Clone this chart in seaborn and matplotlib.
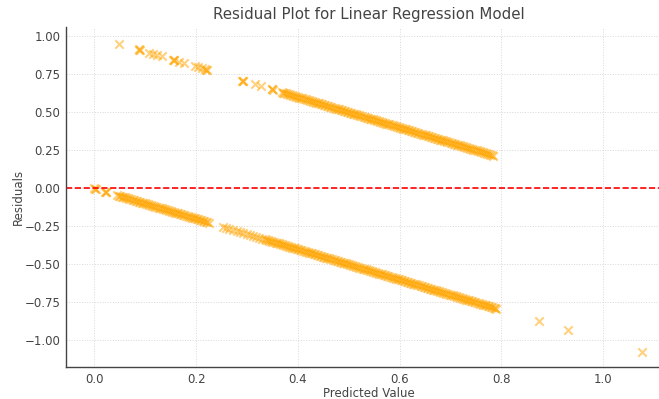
import pandas as pd
import matplotlib
matplotlib.use("Agg")
import matplotlib.pyplot as plt
import seaborn as sns

# Predicted values, split by actual class
# actual = 1 -> upper branch, actual = 0 -> lower branch
pred_class1 = [
    0.049, 0.087, 0.088, 0.089, 0.108, 0.116, 0.124, 0.132, 0.155, 0.156,
    0.157, 0.167, 0.177, 0.197, 0.203, 0.211, 0.218, 0.220, 0.222, 0.291,
    0.292, 0.293, 0.315, 0.328, 0.349, 0.350, 0.351, 0.368,
    0.370, 0.373, 0.376, 0.379, 0.382, 0.385, 0.388, 0.391, 0.394, 0.397,
    0.400, 0.403, 0.406, 0.409, 0.412, 0.415, 0.418, 0.421, 0.424, 0.427,
    0.430, 0.433, 0.436, 0.439, 0.442, 0.445, 0.448, 0.451, 0.454, 0.457,
    0.460, 0.463, 0.466, 0.469, 0.472, 0.475, 0.478, 0.481, 0.484, 0.487,
    0.490, 0.493, 0.496, 0.499, 0.502, 0.505, 0.508, 0.511, 0.514, 0.517,
    0.520, 0.523, 0.526, 0.529, 0.532, 0.535, 0.538, 0.541, 0.544, 0.547,
    0.550, 0.553, 0.556, 0.559, 0.562, 0.565, 0.568, 0.571, 0.574, 0.577,
    0.580, 0.583, 0.586, 0.589, 0.592, 0.595, 0.598, 0.601, 0.604, 0.607,
    0.610, 0.613, 0.616, 0.619, 0.622, 0.625, 0.628, 0.631, 0.634, 0.637,
    0.640, 0.643, 0.646, 0.649, 0.652, 0.655, 0.658, 0.661, 0.664, 0.667,
    0.670, 0.673, 0.676, 0.679, 0.682, 0.685, 0.688, 0.691, 0.694, 0.697,
    0.700, 0.703, 0.706, 0.709, 0.712, 0.715, 0.718, 0.721, 0.724, 0.727,
    0.730, 0.733, 0.736, 0.739, 0.742, 0.745, 0.748, 0.751, 0.754, 0.757,
    0.760, 0.763, 0.766, 0.769, 0.772, 0.775, 0.778, 0.781, 0.784,
]

pred_class0 = [
    0.000, 0.002, 0.004, 0.021, 0.022, 0.023,
    0.045, 0.048, 0.051, 0.054, 0.057, 0.060, 0.063, 0.066, 0.069, 0.072,
    0.075, 0.078, 0.081, 0.084, 0.087, 0.090, 0.093, 0.096, 0.099, 0.102,
    0.105, 0.108, 0.111, 0.114, 0.117, 0.120, 0.123, 0.126, 0.129, 0.132,
    0.135, 0.138, 0.141, 0.144, 0.147, 0.150, 0.153, 0.156, 0.159, 0.162,
    0.165, 0.168, 0.171, 0.174, 0.177, 0.180, 0.183, 0.186, 0.189, 0.192,
    0.195, 0.198, 0.201, 0.204, 0.207, 0.210, 0.213, 0.216, 0.219, 0.222,
    0.225,
    0.252, 0.258, 0.265, 0.272, 0.280, 0.287, 0.293, 0.300, 0.306, 0.312,
    0.318, 0.324, 0.330,
    0.335, 0.338, 0.341, 0.344, 0.347, 0.350, 0.353, 0.356, 0.359, 0.362,
    0.365, 0.368, 0.371, 0.374, 0.377, 0.380, 0.383, 0.386, 0.389, 0.392,
    0.395, 0.398, 0.401, 0.404, 0.407, 0.410, 0.413, 0.416, 0.419, 0.422,
    0.425, 0.428, 0.431, 0.434, 0.437, 0.440, 0.443, 0.446, 0.449, 0.452,
    0.455, 0.458, 0.461, 0.464, 0.467, 0.470, 0.473, 0.476, 0.479, 0.482,
    0.485, 0.488, 0.491, 0.494, 0.497, 0.500, 0.503, 0.506, 0.509, 0.512,
    0.515, 0.518, 0.521, 0.524, 0.527, 0.530, 0.533, 0.536, 0.539, 0.542,
    0.545, 0.548, 0.551, 0.554, 0.557, 0.560, 0.563, 0.566, 0.569, 0.572,
    0.575, 0.578, 0.581, 0.584, 0.587, 0.590, 0.593, 0.596, 0.599, 0.602,
    0.605, 0.608, 0.611, 0.614, 0.617, 0.620, 0.623, 0.626, 0.629, 0.632,
    0.635, 0.638, 0.641, 0.644, 0.647, 0.650, 0.653, 0.656, 0.659, 0.662,
    0.665, 0.668, 0.671, 0.674, 0.677, 0.680, 0.683, 0.686, 0.689, 0.692,
    0.695, 0.698, 0.701, 0.704, 0.707, 0.710, 0.713, 0.716, 0.719, 0.722,
    0.725, 0.728, 0.731, 0.734, 0.737, 0.740, 0.743, 0.746, 0.749, 0.752,
    0.755, 0.758, 0.761, 0.764, 0.767, 0.770, 0.773, 0.776, 0.779, 0.782,
    0.785, 0.788, 0.790,
    0.874, 0.931, 1.077,
]

x_ticks = [0.0, 0.2, 0.4, 0.6, 0.8, 1.0]
y_ticks = [-1.00, -0.75, -0.50, -0.25, 0.00, 0.25, 0.50, 0.75, 1.00]

# Build the frame: residual = actual - predicted
df = pd.DataFrame({
    "predicted": pred_class1 + pred_class0,
    "actual": [1] * len(pred_class1) + [0] * len(pred_class0),
})
df["residual"] = df["actual"] - df["predicted"]

sns.set_style("whitegrid")
plt.rcParams["font.family"] = ["DejaVu Sans"]

fig = plt.figure(figsize=(6.59, 3.99), dpi=100)
ax = fig.add_axes([0.100, 0.080, 0.918, 0.852])

sns.scatterplot(data=df, x="predicted", y="residual", ax=ax,
                marker="x", color="orange", alpha=0.5, s=36, linewidth=1.5)
ax.axhline(0, color="red", linestyle="--", linewidth=1.2)

ax.set_xlim(-0.056, 1.133)
ax.set_ylim(-1.175, 1.06)
ax.set_xticks(x_ticks)
ax.set_yticks(y_ticks)

text_color = "#444444"
ax.set_title("Residual Plot for Linear Regression Model", fontsize=10.8,
             color=text_color, pad=6)
ax.set_xlabel("Predicted Value", fontsize=8.5, color=text_color, labelpad=1)
ax.set_ylabel("Residuals", fontsize=8.5, color=text_color, labelpad=0)
ax.tick_params(labelsize=8.5, colors=text_color, direction="in",
               length=2, pad=4)

ax.grid(True, linestyle=":", color="#d8d8d8", linewidth=0.7)
for side in ["top", "right"]:
    ax.spines[side].set_visible(False)
for side in ["left", "bottom"]:
    ax.spines[side].set_color("#444444")
    ax.spines[side].set_linewidth(1.0)

fig.savefig("out.png", dpi=100)
